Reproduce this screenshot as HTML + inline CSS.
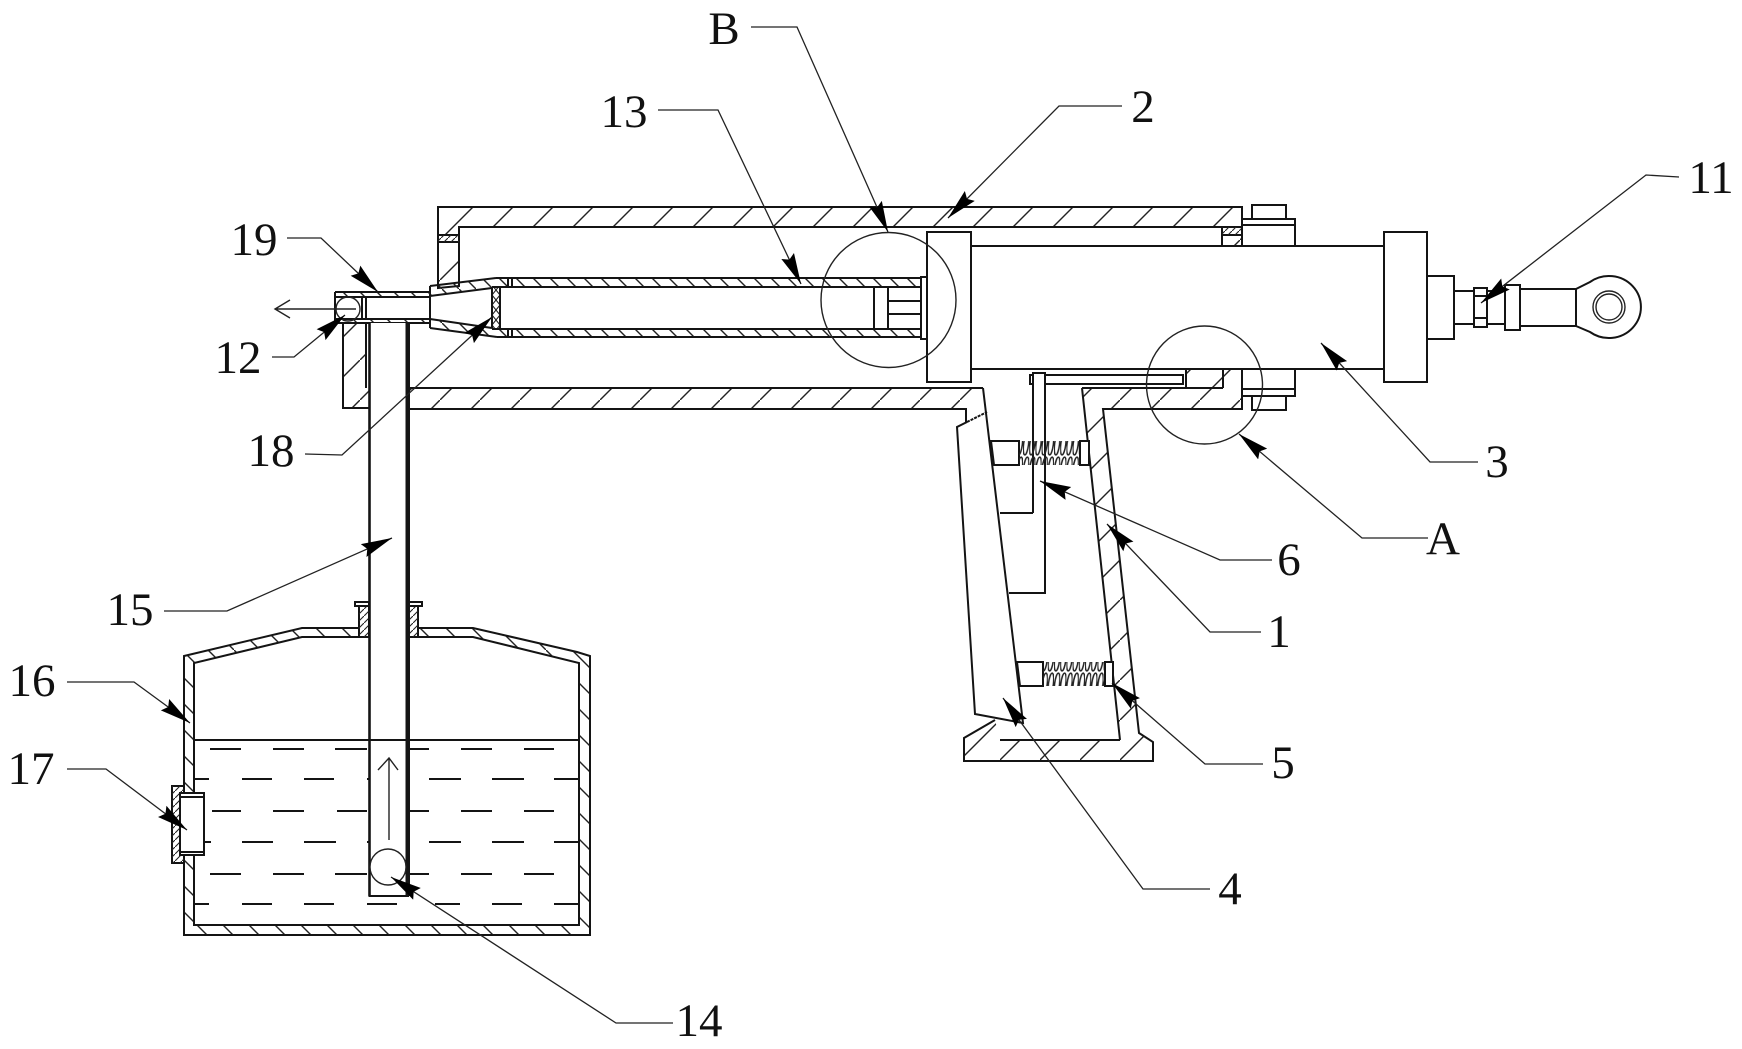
<!DOCTYPE html>
<html>
<head>
<meta charset="utf-8">
<style>
html,body{margin:0;padding:0;background:#fff;width:1742px;height:1049px;overflow:hidden}
svg{display:block}
text{font-family:"Liberation Serif","Noto Serif CJK SC",serif;font-size:47px;fill:#111;text-anchor:middle}
.l{fill:none;stroke:#141414;stroke-width:2}
.w{fill:#fff;stroke:#141414;stroke-width:2}
.t{fill:none;stroke:#222;stroke-width:1.3;marker-end:url(#ah)}
.c{fill:none;stroke:#222;stroke-width:1.4}
</style>
</head>
<body>
<svg width="1742" height="1049" viewBox="0 0 1742 1049" xmlns="http://www.w3.org/2000/svg">
<defs>
<pattern id="h36" width="40" height="40" patternUnits="userSpaceOnUse"><path d="M-2 42L42 -2" stroke="#222" stroke-width="1.4" fill="none"/></pattern>
<pattern id="h17" width="17" height="17" patternUnits="userSpaceOnUse"><path d="M-2 -2L19 19" stroke="#222" stroke-width="1.4" fill="none"/></pattern>
<pattern id="h26" width="26" height="26" patternUnits="userSpaceOnUse"><path d="M-2 -2L28 28" stroke="#222" stroke-width="1.4" fill="none"/></pattern>
<pattern id="h7" width="7" height="7" patternUnits="userSpaceOnUse"><path d="M-1 8L8 -1" stroke="#222" stroke-width="1.1" fill="none"/></pattern>
<pattern id="x8" width="8" height="10" patternUnits="userSpaceOnUse"><path d="M0 0L8 10M8 0L0 10" stroke="#222" stroke-width="1.1" fill="none"/></pattern>
<pattern id="sp" width="6.2" height="24" patternUnits="userSpaceOnUse"><ellipse cx="3.1" cy="12" rx="2.5" ry="11" fill="none" stroke="#222" stroke-width="1.5" transform="rotate(7 3.1 12)"/></pattern>
<marker id="ah" markerUnits="userSpaceOnUse" markerWidth="32" markerHeight="18" refX="31" refY="8.5" orient="auto"><path d="M0 1.5L31 8.5L0 15.5L4 8.5Z" fill="#000"/></marker>
</defs>
<rect width="1742" height="1049" fill="#fff"/>

<!-- hatched housing -->
<path class="l" style="fill:url(#h36)" d="M438 207H1242V227H459V286L438 288Z"/>
<rect x="438" y="235" width="21" height="7" class="w"/><rect x="438" y="235" width="21" height="7" fill="url(#h7)"/>
<path style="fill:url(#h36)" d="M343 323H366V388H369V408H343Z"/>
<path class="l" d="M343 323V408H369M366 323V388"/>
<path style="fill:url(#h36)" d="M409 388H983L966 409H409Z"/>
<path class="l" d="M409 388H983M409 409H966V422"/>
<path style="fill:url(#h36)" d="M1082 388H1186V369H1242V409H1103L1139 733L1153 742V761H964V738L995 720L1000 740H1120Z"/>
<path class="l" d="M1082 388H1223M1186 369V388M1223 369V388M1242 369V409H1103L1139 733L1153 742V761H964V738L995 720M1000 740H1120M1082 388L1120 740M1186 369H1223"/>
<rect x="1222" y="227" width="20" height="19" style="fill:url(#h36)"/>
<path class="l" d="M1222 227V246M1222 235H1242"/>
<rect x="1222" y="227" width="20" height="8" style="fill:url(#h7)"/>

<!-- bolts -->
<rect class="w" x="1252" y="205" width="34" height="14"/>
<path class="w" d="M1242 219H1295V246H1242Z"/><path class="l" d="M1242 225H1295"/>
<rect class="w" x="1252" y="396" width="34" height="14"/>
<path class="w" d="M1242 369H1295V396H1242Z"/><path class="l" d="M1242 389H1295"/>

<!-- cylinder -->
<rect class="w" x="971" y="246" width="413" height="123"/>
<rect class="w" x="927" y="232" width="44" height="150"/>
<rect class="w" x="1384" y="232" width="43" height="150"/>
<rect class="w" x="1427" y="276" width="27" height="63"/>
<rect class="w" x="1454" y="291" width="51" height="33"/>
<rect class="w" x="1474" y="288" width="13" height="39"/>
<path class="l" d="M1474 296H1487M1474 318H1487"/>
<rect class="w" x="1520" y="289" width="56" height="37"/>
<rect class="w" x="1505" y="285" width="15" height="45"/>
<path class="w" d="M1576 289L1590 282A32 31 0 1 1 1590 332L1576 326Z"/>
<circle class="c" cx="1609" cy="307" r="16"/><circle class="c" cx="1609" cy="307" r="13"/>

<!-- slider -->
<rect class="w" x="1030" y="375" width="153" height="9"/>
<path class="w" d="M1033 513V373H1045V593H1009"/>
<path class="l" d="M1000 513H1033"/>

<!-- handle -->
<path class="w" d="M967 422L957 427L975 714L1023 723L983 388"/>
<path class="l" d="M967 422L987 412" stroke-dasharray="3 1"/>

<!-- springs -->
<path class="w" d="M991 441H1019V465H994Z"/>
<rect x="1019" y="441" width="61" height="24" style="fill:url(#sp)"/>
<rect class="w" x="1080" y="441" width="9" height="24"/>
<path class="w" d="M1017 662H1043V686H1020Z"/>
<rect x="1043" y="662" width="62" height="24" style="fill:url(#sp)"/>
<rect class="w" x="1105" y="662" width="8" height="24"/>

<!-- inner tube -->
<rect x="496" y="278" width="426" height="9" style="fill:url(#h17)"/>
<rect x="496" y="329" width="426" height="8" style="fill:url(#h17)"/>
<path class="l" d="M496 278H921M492 287H921M492 329H921M497 337H921M508 278V287M512 278V287M508 329V337M512 329V337"/>
<rect class="w" x="874" y="287" width="14" height="42"/>
<path class="l" d="M888 301H921M888 314H921"/>
<rect class="w" x="921" y="277" width="6" height="62"/>
<!-- nozzle -->
<path style="fill:url(#h17)" d="M430 286L496 278V287L492 288L430 296ZM430 319L492 328L497 337L430 328Z"/>
<path class="l" d="M430 286L496 278M430 296L492 288M430 319L492 328M430 328L497 337M430 286V328"/>
<rect x="492" y="288" width="8" height="40" style="fill:url(#x8)"/>
<path class="l" d="M492 288V328M500 287V329"/>
<!-- outlet -->
<rect x="335" y="292" width="95" height="5" style="fill:url(#h17)"/>
<rect x="335" y="319" width="95" height="4" style="fill:url(#h17)"/>
<path class="l" d="M335 292H430M335 297H430M335 319H430M335 323H430M335 292V323"/>
<circle class="c" cx="348" cy="309" r="12"/>
<rect class="w" x="362" y="297" width="4" height="22"/>
<path class="c" d="M356 309H275M290 300L275 309L290 318"/>

<!-- tank -->
<path class="l" style="fill:url(#h26)" d="M184 656L302 628H359V637H302L194 663V925H579V663L473 637H418V628H473L577 652L590 656V935H184Z"/>
<path class="l" d="M194 740H579"/>
<path class="l" d="M210 749h31M273 749h31M335 749h32M410 749h19M461 749h31M524 749h30
M194 779h15M242 779h30M304 779h30M367 779h2M429 779h32M492 779h32M554 779h25
M212 811h29M273 811h31M337 811h30M410 811h19M461 811h31M524 811h30
M204 842h7M242 842h31M304 842h32M367 842h2M429 842h32M492 842h32M554 842h25
M210 874h31M273 874h31M335 874h32M410 874h19M461 874h31M524 874h30
M194 904h15M242 904h30M304 904h30M367 904h30M435 904h25M492 904h30M554 904h25"/>
<!-- collars -->
<rect class="w" x="359" y="606" width="10" height="31"/><rect x="359" y="606" width="10" height="31" style="fill:url(#h7)"/>
<rect class="w" x="409" y="606" width="9" height="31"/><rect x="409" y="606" width="9" height="31" style="fill:url(#h7)"/>
<rect class="w" x="355" y="602" width="14" height="4"/>
<rect class="w" x="409" y="602" width="13" height="4"/>
<!-- pipe -->
<path class="w" d="M369.5 323V896H408V323"/>
<path fill="none" stroke="#141414" stroke-width="2.6" d="M369.5 323V896"/>
<path class="l" d="M406.5 323V896M409 323V896M369 740H409"/>
<circle class="c" cx="388" cy="867" r="18" style="fill:#fff"/>
<path class="c" d="M389 840V758M378 770L389 758L398 770"/>
<!-- sight -->
<rect class="w" x="172" y="786" width="12" height="77"/><rect x="172" y="786" width="12" height="77" style="fill:url(#h7)"/>
<rect class="w" x="180" y="793" width="24" height="62"/>
<path class="l" d="M180 797H204M180 852H204"/>

<!-- detail circles -->
<ellipse class="c" cx="888.5" cy="300" rx="67.5" ry="67.5"/>
<ellipse class="c" cx="1204.5" cy="385" rx="58" ry="59"/>

<!-- leaders -->
<polyline class="t" points="751,27 797,27 888,232"/>
<polyline class="t" points="658,110 718,110 801,284"/>
<polyline class="t" points="1122,106 1059,106 948,218"/>
<polyline class="t" points="1679,177 1646,175 1481,303"/>
<polyline class="t" points="287,238 321,238 378,292"/>
<polyline class="t" points="272,357 294,357 345,315"/>
<polyline class="t" points="305,454 342,455 492,317"/>
<polyline class="t" points="164,611 227,611 392,538"/>
<polyline class="t" points="67,682 134,682 190,723"/>
<polyline class="t" points="67,769 106,769 187,830"/>
<polyline class="t" points="673,1023 616,1023 391,877"/>
<polyline class="t" points="1210,889 1143,889 1003,698"/>
<polyline class="t" points="1263,764 1205,764 1112,683"/>
<polyline class="t" points="1261,632 1210,632 1107,524"/>
<polyline class="t" points="1272,560 1220,560 1040,481"/>
<polyline class="t" points="1428,538 1362,538 1239,434"/>
<polyline class="t" points="1478,462 1430,462 1321,343"/>

<!-- labels -->
<text x="724" y="44">B</text>
<text x="624" y="127">13</text>
<text x="1143" y="122">2</text>
<text x="1711" y="193">11</text>
<text x="254" y="255">19</text>
<text x="238" y="373">12</text>
<text x="271" y="466">18</text>
<text x="130" y="625">15</text>
<text x="32" y="696">16</text>
<text x="31" y="784">17</text>
<text x="699" y="1036">14</text>
<text x="1230" y="904">4</text>
<text x="1283" y="778">5</text>
<text x="1279" y="647">1</text>
<text x="1289" y="575">6</text>
<text x="1443" y="554">A</text>
<text x="1497" y="477">3</text>
</svg>
</body>
</html>
